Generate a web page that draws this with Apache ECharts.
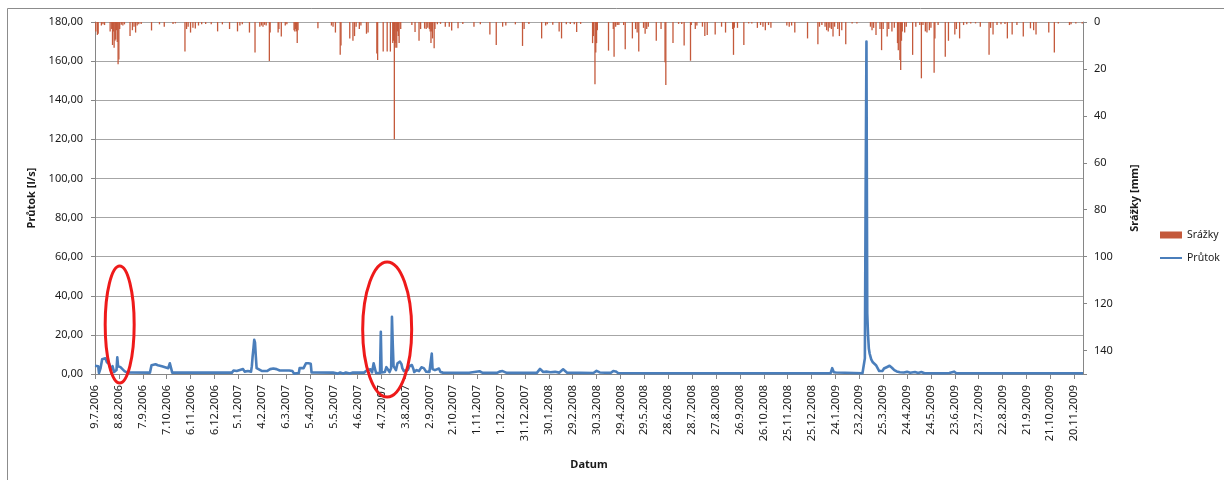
<!DOCTYPE html>
<html>
<head>
<meta charset="utf-8">
<script src="https://cdn.jsdelivr.net/npm/echarts@6/dist/echarts.min.js"></script>
<style>
  html, body { margin: 0; padding: 0; background: #fff; }
  #chart { width: 1224px; height: 480px; }
</style>
</head>
<body>
<div id="chart"></div>
<script>
// Daily series from 9.7.2006 to 1.12.2009
const firstDay = [2006, 6, 9];
const dayCount = 1242;
const categories = [];
for (let i = 0; i < dayCount; i++) {
  const d = new Date(firstDay[0], firstDay[1], firstDay[2] + i);
  categories.push(d.getDate() + '.' + (d.getMonth() + 1) + '.' + d.getFullYear());
}

// Průtok [l/s] – measured discharge, [date, value]
const flowData = [
  ['9.7.2006',4.2],['13.7.2006',4.0],['14.7.2006',0.5],['16.7.2006',3],['18.7.2006',7.5],['22.7.2006',8],
  ['24.7.2006',6],['27.7.2006',5],['29.7.2006',2],['31.7.2006',4],['2.8.2006',1],['5.8.2006',2],
  ['6.8.2006',8.5],['7.8.2006',4],['10.8.2006',3.5],['12.8.2006',2.5],['15.8.2006',1.5],['18.8.2006',0.8],
  ['16.9.2006',0.7],['18.9.2006',4.5],['20.9.2006',5.5],['23.9.2006',5],['26.9.2006',4.5],['28.9.2006',5.5],
  ['1.10.2006',4],['3.10.2006',5],['5.10.2006',3.5],['7.10.2006',4.5],['9.10.2006',3],['10.10.2006',2],
  ['11.10.2006',5.5],['13.10.2006',5],['14.10.2006',0.7],
  ['28.12.2006',0.7],['30.12.2006',1.8],['3.1.2007',1.5],['7.1.2007',2.0],['11.1.2007',2.5],['13.1.2007',1.2],
  ['17.1.2007',1.5],['21.1.2007',1.2],['22.1.2007',4],['23.1.2007',9],['24.1.2007',13],['25.1.2007',17.5],
  ['26.1.2007',16],['27.1.2007',9],['28.1.2007',3],['30.1.2007',2],['4.2.2007',1.5],['10.2.2007',1.5],
  ['14.2.2007',2.5],['18.2.2007',2.8],['22.2.2007',2.5],['26.2.2007',1.8],['4.3.2007',1.8],['10.3.2007',1.8],
  ['14.3.2007',1.5],['16.3.2007',0.2],['18.3.2007',0.3],['22.3.2007',0.5],['23.3.2007',3],['28.3.2007',3],
  ['30.3.2007',2.5],['31.3.2007',5.5],['3.4.2007',5.5],['6.4.2007',5.2],['7.4.2007',0.8],
  ['4.5.2007',0.7],['10.5.2007',0.2],['13.5.2007',0.8],['17.5.2007',0.2],['20.5.2007',0.8],['25.5.2007',0.3],
  ['29.5.2007',0.8],['12.6.2007',0.7],['16.6.2007',2],['18.6.2007',1],['20.6.2007',2.4],['22.6.2007',0.8],
  ['24.6.2007',5.5],['25.6.2007',5.5],['27.6.2007',0.5],['2.7.2007',0.5],['3.7.2007',21.6],['4.7.2007',0.8],
  ['8.7.2007',1],['10.7.2007',3.5],['12.7.2007',4],['14.7.2007',1],['16.7.2007',3],['17.7.2007',29.3],
  ['18.7.2007',15.5],['19.7.2007',4],['22.7.2007',2],['24.7.2007',5.5],['27.7.2007',6.3],['29.7.2007',5],
  ['30.7.2007',3],['1.8.2007',1.5],['3.8.2007',2.5],['6.8.2007',2],['8.8.2007',4],['11.8.2007',4.6],
  ['13.8.2007',2.5],['14.8.2007',1],['17.8.2007',2],['20.8.2007',1.5],['23.8.2007',3.4],['26.8.2007',3],
  ['29.8.2007',1.2],['2.9.2007',1],['5.9.2007',10.4],['6.9.2007',2.5],['9.9.2007',2],['11.9.2007',3],
  ['14.9.2007',2.8],['16.9.2007',1],['19.9.2007',0.7],
  ['22.10.2007',0.6],['4.11.2007',1.4],['8.11.2007',0.6],['26.11.2007',0.6],['29.11.2007',1.2],['3.12.2007',1.5],
  ['8.12.2007',0.6],['15.1.2008',0.6],['19.1.2008',2.6],['21.1.2008',2.2],['23.1.2008',1],['27.1.2008',1.2],
  ['1.2.2008',0.9],['7.2.2008',1.1],['12.2.2008',0.7],['17.2.2008',2.4],['19.2.2008',1.8],['22.2.2008',0.7],
  ['26.3.2008',0.5],['30.3.2008',1.6],['3.4.2008',0.8],['17.4.2008',0.6],['20.4.2008',1.5],['23.4.2008',1.3],
  ['26.4.2008',0.5],['8.6.2008',0.4],['16.9.2008',0.4],['18.1.2009',0.4],['20.1.2009',3],['21.1.2009',2.8],
  ['22.1.2009',0.9],['25.1.2009',0.8],['27.1.2009',0.4],['27.2.2009',0.4],['1.3.2009',0.5],['2.3.2009',8],
  ['3.3.2009',95],['4.3.2009',170],['5.3.2009',31],['6.3.2009',20],['7.3.2009',13],['8.3.2009',10.5],
  ['10.3.2009',7.5],['12.3.2009',6],['14.3.2009',5],['16.3.2009',4.5],['18.3.2009',3.5],['20.3.2009',1.5],
  ['22.3.2009',2.5],['24.3.2009',1.5],['26.3.2009',2.8],['28.3.2009',2.5],['30.3.2009',3.6],['2.4.2009',4.2],
  ['5.4.2009',3.2],['8.4.2009',2],['11.4.2009',1.3],['15.4.2009',0.9],['20.4.2009',0.8],['24.4.2009',1.1],
  ['28.4.2009',0.6],['4.5.2009',1],['8.5.2009',0.5],['12.5.2009',1],['16.5.2009',0.4],['11.6.2009',0.4],
  ['13.6.2009',1],['16.6.2009',0.5],['22.6.2009',1.2],['25.6.2009',0.4],['1.12.2009',0.4]
];

// Srážky [mm] – daily precipitation, [date, value]
const rainData = [
  ['10.7.2006',4],['12.7.2006',5.5],['13.7.2006',5],['17.7.2006',1.5],['19.7.2006',1],['21.7.2006',1.3],
  ['28.7.2006',4],['30.7.2006',3],['31.7.2006',9.8],['1.8.2006',4],['2.8.2006',11],['3.8.2006',8],
  ['4.8.2006',7.5],['5.8.2006',3.5],['6.8.2006',8.5],['7.8.2006',18],['8.8.2006',16],['9.8.2006',3],
  ['11.8.2006',1.2],['13.8.2006',1.5],['15.8.2006',1],['22.8.2006',6],['25.8.2006',3.5],['27.8.2006',2],
  ['29.8.2006',4.5],['31.8.2006',1.5],['2.9.2006',1],['5.9.2006',0.8],['18.9.2006',3.6],['28.9.2006',1],
  ['4.10.2006',2],['15.10.2006',0.8],['18.10.2006',0.6],['30.10.2006',12.6],['1.11.2006',3],['3.11.2006',2],
  ['6.11.2006',4.5],['9.11.2006',2.5],['12.11.2006',2.8],['16.11.2006',1.5],['20.11.2006',1],['25.11.2006',0.8],
  ['2.12.2006',1],['10.12.2006',4],['16.12.2006',1],['25.12.2006',3],['4.1.2007',4],['7.1.2007',1.5],
  ['10.1.2007',1],['19.1.2007',4.5],['26.1.2007',13],['1.2.2007',2],['3.2.2007',1.5],['5.2.2007',2],
  ['7.2.2007',1.2],['9.2.2007',1.5],['13.2.2007',16.6],['14.2.2007',4.5],['24.2.2007',4.5],['25.2.2007',3],
  ['28.2.2007',6.2],['5.3.2007',1.5],['7.3.2007',1],['16.3.2007',3.5],['17.3.2007',4],['18.3.2007',3],
  ['19.3.2007',4],['20.3.2007',9],['21.3.2007',3.5],['15.4.2007',2.7],['2.5.2007',1.5],['4.5.2007',2],
  ['7.5.2007',4.5],['13.5.2007',14],['14.5.2007',10],['25.5.2007',7],['29.5.2007',8],['31.5.2007',6],
  ['2.6.2007',2],['6.6.2007',3],['8.6.2007',1.5],['15.6.2007',5],['17.6.2007',4.5],['28.6.2007',13.4],
  ['29.6.2007',16.2],['6.7.2007',12.6],['11.7.2007',12.6],['15.7.2007',12.6],['18.7.2007',9],['19.7.2007',8],
  ['20.7.2007',50],['21.7.2007',11],['22.7.2007',9],['23.7.2007',11],['24.7.2007',4],['25.7.2007',6],
  ['26.7.2007',9],['28.7.2007',3],['11.8.2007',1.3],['15.8.2007',4.3],['20.8.2007',8],['22.8.2007',3],
  ['27.8.2007',2.8],['29.8.2007',3],['31.8.2007',2.5],['2.9.2007',3],['3.9.2007',4],['4.9.2007',9],
  ['5.9.2007',4],['6.9.2007',7],['8.9.2007',11.2],['9.9.2007',3],['12.9.2007',1],['16.9.2007',0.8],
  ['22.9.2007',2],['27.9.2007',2],['30.9.2007',3.6],['8.10.2007',2.7],['14.10.2007',0.8],['28.10.2007',2],
  ['5.11.2007',1],['17.11.2007',5.3],['25.11.2007',9.8],['3.12.2007',2],['7.12.2007',1.5],['19.12.2007',1],
  ['28.12.2007',10.2],['30.12.2007',3],['5.1.2008',0.8],['21.1.2008',7],['26.1.2008',1.5],['28.1.2008',1],
  ['4.2.2008',1.2],['12.2.2008',4],['15.2.2008',7],['21.2.2008',1],['26.2.2008',0.8],['2.3.2008',1],
  ['5.3.2008',4.3],['10.3.2008',0.8],['25.3.2008',9],['26.3.2008',6],['28.3.2008',26.5],['29.3.2008',13],
  ['30.3.2008',9],['31.3.2008',3.5],['14.4.2008',12.2],['20.4.2008',3],['21.4.2008',14.8],['23.4.2008',2],
  ['25.4.2008',1.3],['27.4.2008',1.3],['3.5.2008',1.3],['5.5.2008',11.6],['14.5.2008',7],['18.5.2008',3],
  ['20.5.2008',4.5],['22.5.2008',12.6],['28.5.2008',2.5],['30.5.2008',5],['1.6.2008',3],['3.6.2008',2],
  ['13.6.2008',8],['19.6.2008',3],['24.6.2008',17.2],['25.6.2008',26.8],['4.7.2008',9],['11.7.2008',0.8],
  ['15.7.2008',0.8],['18.7.2008',10],['26.7.2008',16.5],['27.7.2008',1.3],['1.8.2008',3],['3.8.2008',1.5],
  ['10.8.2008',2],['13.8.2008',6],['16.8.2008',5.5],['26.8.2008',5.3],['3.9.2008',2],['8.9.2008',4.5],
  ['17.9.2008',3],['18.9.2008',14],['19.9.2008',2.5],['23.9.2008',2.5],['1.10.2008',9.8],['7.10.2008',0.6],
  ['11.10.2008',0.6],['18.10.2008',2.5],['22.10.2008',1.3],['25.10.2008',2],['28.10.2008',3.5],['1.11.2008',1.3],
  ['4.11.2008',2.5],['24.11.2008',1.5],['27.11.2008',2],['30.11.2008',1.5],['4.12.2008',4.5],['20.12.2008',7],
  ['2.1.2009',9.5],['4.1.2009',2],['7.1.2009',1.3],['11.1.2009',2],['13.1.2009',3.5],['15.1.2009',4],
  ['17.1.2009',2.5],['19.1.2009',3],['21.1.2009',6.2],['23.1.2009',2],['27.1.2009',3],['29.1.2009',6],
  ['1.2.2009',3.5],['6.2.2009',9.5],['14.2.2009',0.6],['20.2.2009',0.6],['9.3.2009',2],['11.3.2009',3.5],
  ['13.3.2009',2.5],['16.3.2009',5.5],['21.3.2009',3],['23.3.2009',12],['25.3.2009',3],['30.3.2009',6.2],
  ['1.4.2009',3],['5.4.2009',4],['8.4.2009',2.5],['12.4.2009',9],['13.4.2009',12],['15.4.2009',16.2],
  ['16.4.2009',20.5],['17.4.2009',8],['18.4.2009',4],['21.4.2009',4.5],['23.4.2009',2],['1.5.2009',14],
  ['5.5.2009',2],['10.5.2009',1.3],['12.5.2009',24],['14.5.2009',1.3],['17.5.2009',4],['19.5.2009',4.5],
  ['22.5.2009',3.5],['24.5.2009',2.5],['28.5.2009',21.6],['29.5.2009',7],['2.6.2009',1.3],['11.6.2009',14.8],
  ['15.6.2009',8],['23.6.2009',5.3],['25.6.2009',3],['29.6.2009',7],['4.7.2009',1.3],['8.7.2009',1],
  ['13.7.2009',0.6],['19.7.2009',0.6],['25.7.2009',2],['5.8.2009',14],['7.8.2009',2.5],['10.8.2009',5.3],
  ['15.8.2009',1.3],['20.8.2009',1],['25.8.2009',0.8],['28.8.2009',7],['3.9.2009',5.3],['9.9.2009',1.3],
  ['17.9.2009',6.2],['26.9.2009',2.7],['30.9.2009',3.5],['3.10.2009',5.3],['19.10.2009',4.5],['26.10.2009',13],
  ['31.10.2009',0.6],['14.11.2009',1.3],['16.11.2009',1],['22.11.2009',0.6],['30.11.2009',0.6]
];

// Highlighted flood events: [centre date, centre flow value]
const highlights = [
  ['9.8.2006', 25.3],
  ['11.7.2007', 22.8]
];

const FONT = 'Noto Sans';
const TXT = '#1a1a1a';
const AXIS = '#868686';

const chart = echarts.init(document.getElementById('chart'), null, { renderer: 'canvas' });

const option = {
  animation: false,
  backgroundColor: '#fff',
  textStyle: { fontFamily: FONT, color: TXT },
  grid: { left: 95, right: 141, top: 22, bottom: 106, containLabel: false },
  legend: {
    orient: 'vertical',
    left: 1159,
    top: 228,
    padding: 0,
    itemWidth: 22,
    itemHeight: 7,
    itemGap: 9,
    selectedMode: false,
    textStyle: { fontFamily: FONT, fontSize: 10.5, color: TXT, lineHeight: 14 },
    data: [
      { name: 'Srážky', icon: 'rect' },
      { name: 'Průtok', itemStyle: { opacity: 0 } }
    ]
  },
  xAxis: {
    type: 'category',
    data: categories,
    boundaryGap: false,
    name: 'Datum',
    nameLocation: 'middle',
    nameGap: 85,
    nameTextStyle: { fontFamily: FONT, fontSize: 11, fontWeight: 'bold', color: TXT },
    axisLine: { lineStyle: { color: AXIS } },
    axisTick: { interval: 29, length: 5, lineStyle: { color: AXIS } },
    axisLabel: {
      interval: 29, rotate: 90, margin: 11, fontSize: 11, fontFamily: FONT, color: TXT
    },
    splitLine: { show: false }
  },
  yAxis: [
    {
      type: 'value', min: 0, max: 180, interval: 20, position: 'left',
      name: 'Průtok [l/s]', nameLocation: 'middle', nameGap: 58, nameRotate: 90,
      nameTextStyle: { fontFamily: FONT, fontSize: 11, fontWeight: 'bold', color: TXT },
      axisLine: { show: true, lineStyle: { color: AXIS } },
      axisTick: { show: true, length: 4, lineStyle: { color: AXIS } },
      splitLine: { show: true, lineStyle: { color: '#a6a6a6', width: 1 } },
      axisLabel: {
        margin: 12, fontSize: 11, fontFamily: FONT, color: TXT,
        formatter: v => v.toFixed(2).replace('.', ',')
      }
    },
    {
      type: 'value', min: 0, max: 150, interval: 20, inverse: true, position: 'right',
      name: 'Srážky [mm]', nameLocation: 'middle', nameGap: 46, nameRotate: 90,
      nameTextStyle: { fontFamily: FONT, fontSize: 11, fontWeight: 'bold', color: TXT },
      axisLine: { show: true, lineStyle: { color: AXIS } },
      axisTick: { show: true, length: 4, lineStyle: { color: AXIS } },
      splitLine: { show: false },
      axisLabel: {
        margin: 11, fontSize: 11, fontFamily: FONT, color: TXT,
        formatter: v => (v % 20 === 0 ? String(v) : '')
      }
    }
  ],
  series: [
    {
      name: 'Srážky',
      type: 'bar',
      yAxisIndex: 1,
      data: rainData,
      barWidth: 1.3,
      itemStyle: { color: '#c4593b' },
      z: 2
    },
    {
      name: 'Průtok',
      type: 'line',
      yAxisIndex: 0,
      data: flowData,
      symbol: 'none',
      lineStyle: { color: '#4a7ebb', width: 2.6, join: 'round' },
      itemStyle: { color: '#4a7ebb' },
      z: 3
    }
  ]
};

chart.setOption(option);

// frame around the chart area and red highlight ellipses
const radii = [[14.5, 58.5], [24.5, 67.5]];
const graphics = [{
  type: 'rect', silent: true, z: -1,
  shape: { x: 7.5, y: 8.5, width: 1400, height: 600 },
  style: { fill: 'none', stroke: '#8c8c8c', lineWidth: 1 }
}];
highlights.forEach((h, i) => {
  const p = chart.convertToPixel({ xAxisIndex: 0, yAxisIndex: 0 }, [categories.indexOf(h[0]), h[1]]);
  graphics.push({
    type: 'ellipse', silent: true, z: 100,
    shape: { cx: p[0], cy: p[1], rx: radii[i][0], ry: radii[i][1] },
    style: { fill: 'none', stroke: '#ee1a1a', lineWidth: 3 }
  });
});
chart.setOption({ graphic: graphics });
</script>
</body>
</html>
